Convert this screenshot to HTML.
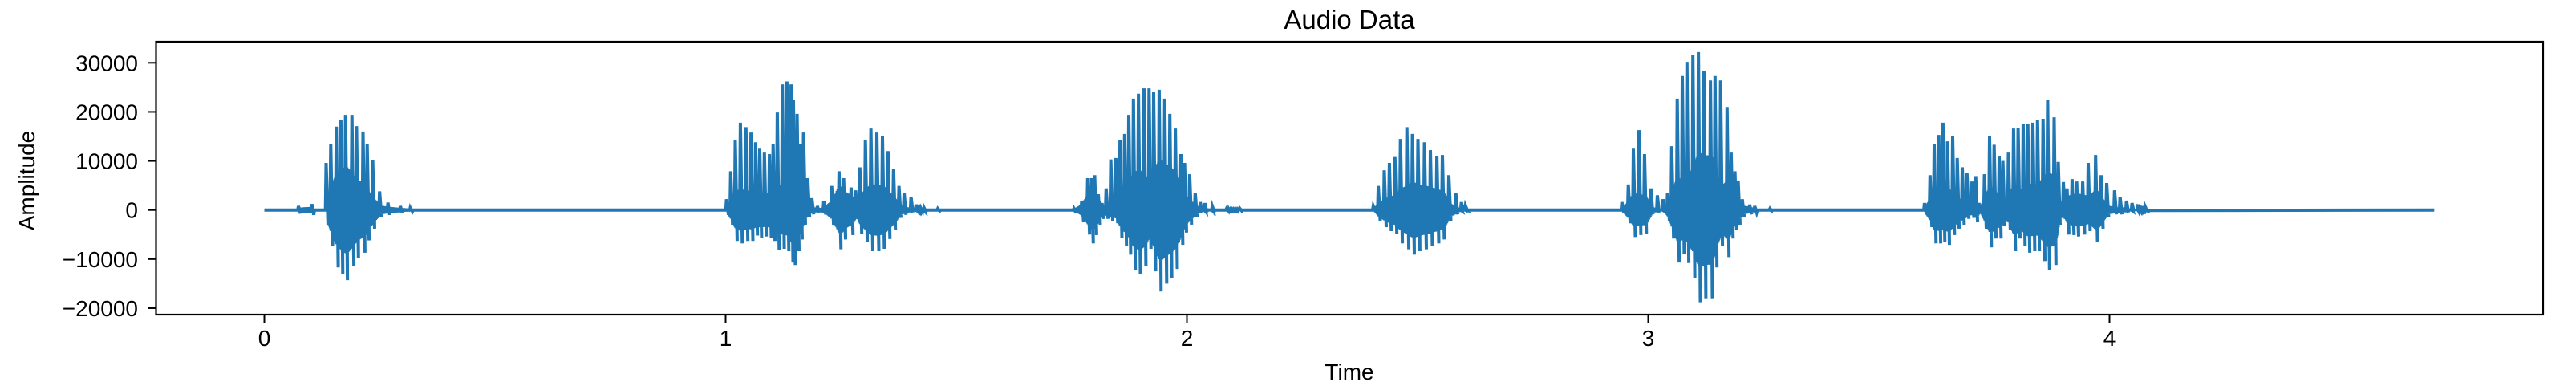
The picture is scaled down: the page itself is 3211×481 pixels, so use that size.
<!DOCTYPE html>
<html><head><meta charset="utf-8"><style>
html,body{margin:0;padding:0;background:#fff;}
svg{display:block;font-family:"Liberation Sans","DejaVu Sans",sans-serif;}
</style></head><body>
<svg id="chart" width="3211" height="481" viewBox="0 0 3211 481" xmlns="http://www.w3.org/2000/svg">
<rect width="3211" height="481" fill="#fff"/>
<text x="1682" y="36" font-size="33" text-anchor="middle" fill="#000">Audio Data</text>
<text x="0" y="0" font-size="28" text-anchor="middle" fill="#000" transform="translate(43,225) rotate(-90)">Amplitude</text>
<text x="1682" y="473" font-size="28" text-anchor="middle" fill="#000">Time</text>
<g id="plot"></g>
<rect x="194.5" y="52" width="2975.5" height="340" fill="none" stroke="#000" stroke-width="2.2"/>
</svg>
<script>
var duration = 4.704;
var xTicks = [0,1,2,3,4];
var yTicks = [-20000,-10000,0,10000,20000,30000];
var yTickLabels = ["\u221220000","\u221210000","0","10000","20000","30000"];
var spikeTimes = [
0.076,0.105,0.136,0.146,0.158,0.168,0.178,0.192,0.202,0.216,0.225,0.237,0.252,0.270,0.297,0.319,
1.004,1.013,1.023,1.034,1.046,1.057,1.067,1.076,1.086,1.097,1.105,1.114,1.125,1.135,1.144,1.149,1.157,1.164,1.171,1.180,1.189,1.201,1.215,1.232,1.248,1.258,1.274,1.284,1.293,1.305,1.317,1.330,1.342,1.354,1.366,1.378,1.389,1.404,1.415,1.432,1.462,
1.757,1.774,1.787,1.795,1.802,1.810,1.818,1.827,1.837,1.848,1.857,1.867,1.876,1.886,1.897,1.909,1.920,1.930,1.942,1.954,1.965,1.977,1.989,1.997,2.008,2.020,2.031,2.041,2.057,2.088,2.117,
2.406,2.417,2.430,2.441,2.453,2.465,2.479,2.491,2.503,2.517,2.530,2.544,2.556,2.570,2.585,2.597,2.606,
2.945,2.959,2.970,2.982,2.994,3.008,3.022,3.034,3.044,3.053,3.065,3.076,3.086,3.099,3.111,3.123,3.137,3.147,3.159,3.173,3.182,3.190,3.197,3.206,3.222,3.233,3.266,
3.601,3.613,3.622,3.632,3.641,3.651,3.662,3.672,3.683,3.693,3.704,3.712,3.719,3.731,3.742,3.752,3.763,3.771,3.783,3.794,3.804,3.815,3.825,3.836,3.846,3.858,3.868,3.882,3.891,3.902,3.910,3.921,3.931,3.944,3.956,3.972,3.984,3.996,4.013,4.025,4.039,4.051,4.065,4.079];
var spikeMax = [
800,1200,9600,13500,17000,18300,19400,19400,17100,16000,13400,10100,3800,1500,800,400,
2200,7900,14200,17800,16900,15800,13800,12500,11700,11400,13400,19900,25600,26200,25600,22400,19600,13400,15800,6500,2400,800,1900,4900,7900,6500,4600,4000,8700,14200,16600,15800,15000,12000,8400,4900,3500,2700,1100,500,300,
300,1900,6500,6500,7100,3200,1400,4400,10300,10600,14200,15500,19400,22700,23700,24800,24800,24000,24500,22700,19600,16600,11400,9600,7300,3500,1600,1400,800,300,300,
800,4900,8100,9600,10800,14500,16900,15500,14500,13800,12200,11000,11200,7100,3500,1600,900,
1600,5200,12500,16300,11400,4400,3000,2200,3500,13000,22700,27300,30200,31600,32200,28400,26400,27300,26400,21000,11700,7900,6000,2200,1100,800,300,
1400,7100,13500,15300,17800,14000,15000,10600,8700,7600,5800,6900,1400,7300,15000,13300,10900,10000,11700,16600,16800,17500,17500,17800,18300,18600,22400,18900,9800,5700,4400,6300,5800,5800,9600,11200,7100,5500,4000,2700,1900,1400,1100,800];
var spikeMin = [
-700,-1000,-3000,-7400,-11700,-13100,-14300,-11500,-9800,-8700,-6200,-3800,-1400,-1000,-600,-300,
-1000,-3000,-6300,-6800,-6300,-6300,-5200,-5700,-5400,-5700,-6300,-8200,-7900,-8400,-10700,-11200,-8400,-6000,-3000,-1400,-900,-500,-900,-3000,-8000,-6000,-5100,-1800,-4900,-6600,-8400,-8400,-7900,-5900,-4100,-1600,-1000,-500,-200,-300,-200,
-500,-2500,-5000,-6800,-5100,-3000,-1800,-1800,-2200,-2700,-5700,-7400,-9100,-12300,-13100,-11500,-7900,-12500,-16600,-15000,-13900,-12000,-7100,-4600,-3000,-1400,-500,-500,-300,-200,-200,
-200,-2200,-3500,-4300,-4900,-6800,-8000,-9100,-8400,-8000,-7400,-6800,-6000,-2200,-900,-200,-100,
-500,-2700,-5500,-5100,-4900,-900,-500,-200,-2200,-5800,-10700,-9000,-10800,-13900,-18800,-18000,-18000,-11700,-7400,-9600,-5800,-4100,-3000,-1400,-900,-500,-200,
-900,-3500,-6800,-6800,-6600,-7100,-5100,-3800,-3000,-1800,-1600,-2500,-200,-3800,-7600,-5800,-5800,-3300,-4100,-8400,-5800,-7400,-8700,-8400,-8400,-10400,-12300,-11200,-3000,-1800,-5000,-5100,-5400,-5000,-4300,-6600,-3800,-1400,-900,-900,-500,-300,-200,-100];

var L=194.5, R=3170, T=52, B=392;
var x0=329.5, xs=575;
function xScale(t){ return x0 + t*xs; }
function yScale(v){ return 261.7 - v*0.006113; }
var NS="http://www.w3.org/2000/svg";
var plot=document.getElementById('plot');
var svg=document.getElementById('chart');

for (var i=0;i<xTicks.length;i++){
  var xx=xScale(xTicks[i]);
  var tk=document.createElementNS(NS,'line');
  tk.setAttribute('x1',xx);tk.setAttribute('x2',xx);tk.setAttribute('y1',B);tk.setAttribute('y2',B+10);
  tk.setAttribute('stroke','#000');tk.setAttribute('stroke-width','2');
  
  
  svg.appendChild(tk);
  var tl=document.createElementNS(NS,'text');
  tl.setAttribute('x',xx);tl.setAttribute('y',431);tl.setAttribute('font-size','28');tl.setAttribute('text-anchor','middle');
  tl.textContent=String(xTicks[i]);
  
  
  svg.appendChild(tl);
}
for (var j=0;j<yTicks.length;j++){
  var yy=yScale(yTicks[j]);
  var tk2=document.createElementNS(NS,'line');
  tk2.setAttribute('x1',L-10);tk2.setAttribute('x2',L);tk2.setAttribute('y1',yy);tk2.setAttribute('y2',yy);
  tk2.setAttribute('stroke','#000');tk2.setAttribute('stroke-width','2');
  
  
  svg.appendChild(tk2);
  var tl2=document.createElementNS(NS,'text');
  tl2.setAttribute('x',172);tl2.setAttribute('y',yy+10);tl2.setAttribute('font-size','28');tl2.setAttribute('text-anchor','end');
  tl2.textContent=yTickLabels[j];
  
  
  svg.appendChild(tl2);
}

var pts=[[xScale(0),yScale(0)]];
for (var k=0;k<spikeTimes.length;k++){
  var t=spikeTimes[k];
  var px=xScale(t);
  pts.push([px-2,yScale(0)]);
  pts.push([px-1.2,yScale(spikeMax[k])]);
  pts.push([px+1.2,yScale(spikeMin[k])]);
  if (k+1<spikeTimes.length){
    var nt=spikeTimes[k+1];
    var nx=xScale(nt);
    if (nt-t<0.03){
      var c1=Math.min(spikeMax[k],-spikeMin[k])*0.62;
      var c2=Math.min(spikeMax[k+1],-spikeMin[k+1])*0.62;
      var n=9;
      for (var m=1;m<n;m++){
        var f=m/n;
        var cx=px+(nx-px)*f;
        var c=c1+(c2-c1)*f;
        pts.push([cx-0.4,yScale(c)]);
        pts.push([cx+0.4,yScale(-c)]);
      }
    } else {
      pts.push([px+2,yScale(0)]);
    }
  }
}
pts.push([xScale(duration),yScale(0)]);
var d='M'+pts.map(function(p){return p[0].toFixed(1)+','+p[1].toFixed(1);}).join('L');
var path=document.createElementNS(NS,'path');
path.setAttribute('d',d);
path.setAttribute('fill','none');
path.setAttribute('stroke','#1f77b4');
path.setAttribute('stroke-width','4');
path.setAttribute('stroke-linejoin','miter');


plot.appendChild(path);
</script>
</body></html>
